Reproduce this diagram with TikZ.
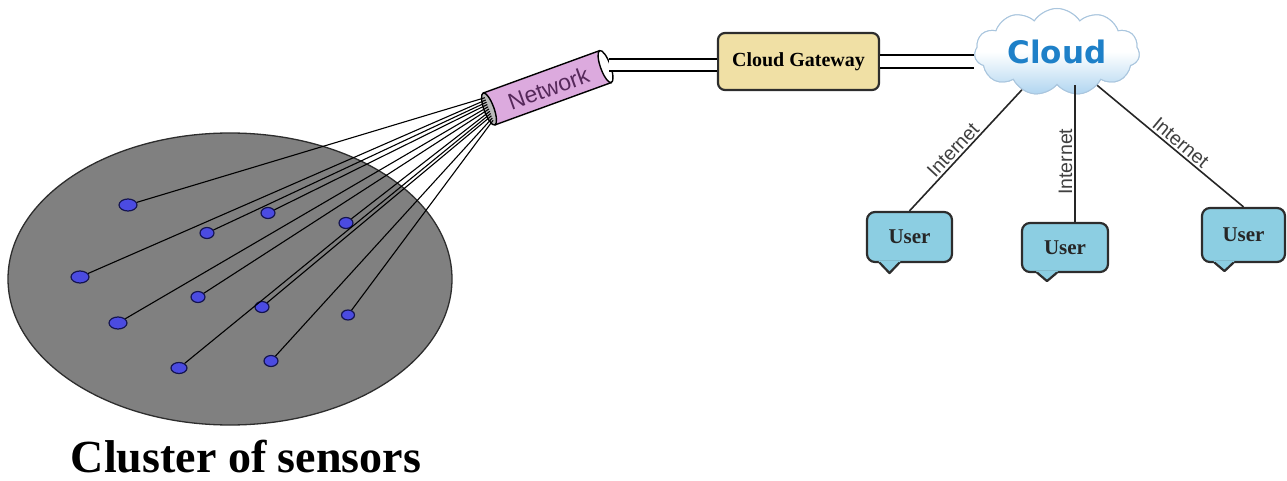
\documentclass[tikz,border=0pt]{standalone}
\usepackage{fontspec}
\setmainfont{Liberation Serif}
\setsansfont{Liberation Sans}
\newfontfamily\dvsans{DejaVu Sans}
\usetikzlibrary{shapes.geometric,shapes.symbols,calc}
\definecolor{clusterfill}{RGB}{128,128,128}
\definecolor{clusterline}{RGB}{45,45,45}
\definecolor{sensorfill}{RGB}{75,75,225}
\definecolor{sensorline}{RGB}{20,20,80}
\definecolor{tubepink}{RGB}{220,170,222}
\definecolor{nettext}{RGB}{85,40,90}
\definecolor{gwfill}{RGB}{240,224,165}
\definecolor{boxline}{RGB}{45,45,45}
\definecolor{userfill}{RGB}{140,206,226}
\definecolor{cloudblue}{RGB}{30,128,200}
\definecolor{cloudbot}{RGB}{175,212,240}
\definecolor{cloudedge}{RGB}{170,198,222}
\begin{document}
\begin{tikzpicture}[x=1pt,y=-1pt,
  cluster/.style={ellipse,draw=clusterline,fill=clusterfill,line width=1.3pt,inner sep=0pt},
  sensorbig/.style={ellipse,draw=sensorline,fill=sensorfill,line width=1.2pt,inner sep=0pt,minimum width=18pt,minimum height=12pt},
  sensorsmall/.style={ellipse,draw=sensorline,fill=sensorfill,line width=1.2pt,inner sep=0pt,minimum width=14pt,minimum height=11pt},
  wire/.style={draw=black,line width=1.1pt},
  tubeline/.style={draw=black,line width=1.4pt},
  dbl/.style={draw=black,line width=1.8pt,double=white,double distance=10.5pt},
  gwbox/.style={rectangle,rounded corners=7pt,draw=boxline,fill=gwfill,line width=2.2pt,inner sep=0pt,
    font=\bfseries\fontsize{20}{22}\selectfont},
  userbox/.style={rectangle,rounded corners=8pt,draw=boxline,fill=userfill,line width=2.2pt,inner sep=0pt,
    font=\bfseries\fontsize{21}{23}\selectfont,text=black!85},
  inet/.style={draw=black!85,line width=1.6pt},
  ilabel/.style={font=\sffamily\fontsize{19.5}{21}\selectfont,text=black!75,inner sep=2pt},
  cloudshape/.style={cloud,cloud puffs=11,cloud puff arc=115,cloud ignores aspect,minimum width=165pt,minimum height=87pt,
    inner sep=0pt,draw=cloudedge,line width=1pt,top color=white,bottom color=cloudbot,middle color=white,
    font=\dvsans\bfseries\fontsize{31}{33}\selectfont,text=cloudblue},
]
\useasboundingbox (0,0) rectangle (1287,481);

% cluster of sensors
\node[cluster,minimum width=444pt,minimum height=292pt] (cl) at (230,279) {};
\node[font=\bfseries\fontsize{46}{50}\selectfont,inner sep=0pt] (cllabel) at (246,457) {Cluster of sensors};

% network tube
\begin{scope}[shift={(489,109)},rotate=20]
  \fill[tubepink] (0pt,-17pt) rectangle (124pt,17pt);
  \draw[tubeline] (0pt,17pt) -- (124pt,17pt) (0pt,-17pt) -- (124pt,-17pt);
  \draw[tubeline,fill=white] (124pt,0pt) ellipse [x radius=5pt,y radius=17pt];
  \draw[tubeline,fill=gray!55] (0pt,0pt) ellipse [x radius=5pt,y radius=17pt];
  \node[rotate=20,font=\sffamily\fontsize{23}{25}\selectfont,text=nettext] (net) at (63pt,-1pt) {Network};
  \coordinate (tubeR) at (128pt,0pt);
  \coordinate (e1) at (0pt,12pt);
  \coordinate (e5) at (0pt,9.6pt);
  \coordinate (e2) at (0pt,7.2pt);
  \coordinate (e3) at (0pt,4.8pt);
  \coordinate (e9) at (0pt,2.4pt);
  \coordinate (e6) at (0pt,0pt);
  \coordinate (e4) at (0pt,-2.4pt);
  \coordinate (e10) at (0pt,-4.8pt);
  \coordinate (e7) at (0pt,-7.2pt);
  \coordinate (e11) at (0pt,-9.6pt);
  \coordinate (e8) at (0pt,-12pt);
\end{scope}

% sensors
\node[sensorbig] (s1) at (128,205) {};
\node[sensorsmall] (s2) at (207,233) {};
\node[sensorsmall] (s3) at (268,213) {};
\node[sensorsmall] (s4) at (346,223) {};
\node[sensorbig] (s5) at (80,277) {};
\node[sensorsmall] (s6) at (198,297) {};
\node[sensorsmall] (s7) at (262,307) {};
\node[sensorsmall,minimum width=13pt,minimum height=10pt] (s8) at (348,315) {};
\node[sensorbig] (s9) at (118,323) {};
\node[sensorsmall,minimum width=16pt] (s10) at (179,368) {};
\node[sensorsmall] (s11) at (271,361) {};

\foreach \i in {1,...,11} {
  \draw[wire] (s\i) -- (e\i);
}

% cloud gateway
\node[gwbox,minimum width=161pt,minimum height=57pt] (gw) at (798.5,61.5) {Cloud Gateway};
\draw[dbl] (tubeR) -- (tubeR -| gw.west);

% cloud
\node[cloudshape] (cloud) at (1057,52) {Cloud};
\draw[dbl] (gw.east) -- (gw.east -| cloud.west);
\node[cloudshape] (cloudtop) at (cloud.center) {Cloud};

% users
\node[userbox,minimum width=85pt,minimum height=50pt] (u1) at (909.5,237) {User};
\node[userbox,minimum width=86pt,minimum height=49pt] (u2) at (1065,247.5) {User};
\node[userbox,minimum width=83pt,minimum height=54pt] (u3) at (1243.5,235) {User};
\foreach \u/\a/\b/\t/\h in {u1/-30/-10/-20/10, u2/-28/-8/-18/8, u3/-29/-10/-19/8} {
  \fill[userfill] ($(\u.south)+(\a-1,-2)$) -- ($(\u.south)+(\t,\h)$) -- ($(\u.south)+(\b+1,-2)$) -- cycle;
  \draw[draw=boxline,line width=2.2pt,line join=round] ($(\u.south)+(\a,-0.5)$) -- ($(\u.south)+(\t,\h)$) -- ($(\u.south)+(\b,-0.5)$);
}

% internet links
\draw[inet] (u1.north) -- (cloud) node[pos=0.45,sloped,above,ilabel] {Internet};
\coordinate (u2top) at ($(u2.north)+(10,0)$);
\draw[inet] (u2top) -- (u2top |- cloud.south) node[pos=0.44,sloped,above,ilabel] {Internet};
\draw[inet] (cloud) -- (u3.north) node[pos=0.53,sloped,above,ilabel] {Internet};
\end{tikzpicture}
\end{document}
